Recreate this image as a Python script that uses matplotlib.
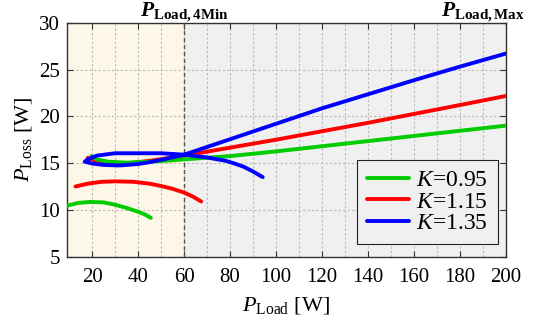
import numpy as np
import matplotlib
matplotlib.use("Agg")
import matplotlib.pyplot as plt
from matplotlib.transforms import blended_transform_factory

plt.rcParams['font.family'] = ['Liberation Serif', 'DejaVu Serif']
plt.rcParams['mathtext.fontset'] = 'custom'
plt.rcParams['mathtext.rm'] = 'Liberation Serif'
plt.rcParams['mathtext.it'] = 'Liberation Serif:italic'
plt.rcParams['mathtext.bf'] = 'Liberation Serif:bold'
plt.rcParams['mathtext.bfit'] = 'Liberation Serif:italic:bold'

# K = 0.95 (green)
g_up_x = [19.6, 22, 27, 35, 45, 52, 60, 80, 100, 120, 140, 160, 180, 200]
g_up_y = [15.75, 15.4, 15.15, 15.05, 15.15, 15.25, 15.4, 15.75, 16.25, 16.8, 17.35, 17.9, 18.45, 19.0]
g_lo_x = [9, 14, 19, 25, 30, 35, 40, 43, 45.5]
g_lo_y = [10.45, 10.75, 10.85, 10.8, 10.55, 10.2, 9.8, 9.5, 9.15]

# K = 1.15 (red)
r_up_x = [18, 22, 28, 35, 45, 52, 60, 80, 100, 120, 140, 160, 180, 200]
r_up_y = [15.55, 15.2, 15.0, 14.95, 15.25, 15.5, 15.8, 16.65, 17.5, 18.4, 19.3, 20.25, 21.2, 22.17]
r_lo_x = [12.7, 18, 24, 30, 38, 45, 50, 55, 60, 64, 67.4]
r_lo_y = [12.5, 12.8, 13.0, 13.05, 13.0, 12.8, 12.55, 12.25, 11.85, 11.4, 10.9]

# K = 1.35 (blue), one continuous fold
b_x = [94.2, 90, 86, 82, 78, 70, 60, 50, 40, 30, 22, 18, 16.7,
       20, 25, 32, 40, 45, 52, 60, 80, 100, 120, 140, 160, 180, 200]
b_y = [13.5, 14.1, 14.6, 14.95, 15.25, 15.6, 15.9, 16.05, 16.05, 16.05, 15.8, 15.4, 15.15,
       14.95, 14.8, 14.75, 14.9, 15.1, 15.45, 15.9, 17.55, 19.2, 20.85, 22.35, 23.85, 25.3, 26.7]

labels = ['$K$=0.95', '$K$=1.15', '$K$=1.35']
colors = ['#00cc00', '#ff0000', '#0000ff']

fig = plt.figure(figsize=(5.38, 3.23), dpi=100)
ax = fig.add_axes([0.1245, 0.2053, 0.8155, 0.7244])

xmin, xmax = 9, 200
ax.axvspan(xmin, 60, color='#fdf7e7', zorder=0)
ax.axvspan(60, xmax, color='#f0f0f0', zorder=0)
ax.axvline(60, color='#555555', ls=(0, (3, 2)), lw=1.0, zorder=1)

lw = 2.8
ax.plot(g_up_x, g_up_y, color=colors[0], lw=lw, label=labels[0], solid_capstyle='round', zorder=3)
ax.plot(g_lo_x, g_lo_y, color=colors[0], lw=lw, solid_capstyle='round', zorder=3)
ax.plot(r_up_x, r_up_y, color=colors[1], lw=lw, label=labels[1], solid_capstyle='round', zorder=2.9)
ax.plot(r_lo_x, r_lo_y, color=colors[1], lw=lw, solid_capstyle='round', zorder=3)
ax.plot(b_x, b_y, color=colors[2], lw=lw, label=labels[2], solid_capstyle='round', zorder=3.1)

ax.set_xlim(xmin, xmax)
ax.set_ylim(5, 30)
ax.set_xticks(np.arange(20, 201, 20))
ax.set_xticks(np.arange(30, 200, 20), minor=True)
ax.set_yticks(np.arange(5, 31, 5))
ax.grid(True, which='both', axis='x', color='#b8b8b8', ls=(0, (2, 2)), lw=0.8)
ax.grid(True, which='major', axis='y', color='#b8b8b8', ls=(0, (2, 2)), lw=0.8)
ax.set_axisbelow(True)
ax.tick_params(which='major', direction='in', top=True, right=True, length=4,
               labelsize=15, color='#333333')
ax.tick_params(axis='x', pad=8)
ax.tick_params(axis='y', pad=5)
ax.tick_params(which='minor', length=0)
for s in ax.spines.values():
    s.set_color('#333333')
    s.set_linewidth(1.0)

ax.set_xlabel(r'$P_{\mathrm{Load}}$ [W]', fontsize=16, labelpad=6)
ax.set_ylabel(r'$P_{\mathrm{Loss}}$ [W]', fontsize=16, labelpad=4)

tr = blended_transform_factory(ax.transData, ax.transAxes)
ax.text(60, 1.026, r'$\mathbfit{P}_{\mathbf{Load,4Min}}$', transform=tr,
        ha='center', va='baseline', fontsize=15.5)
ax.text(190, 1.026, r'$\mathbfit{P}_{\mathbf{Load,Max}}$', transform=tr,
        ha='center', va='baseline', fontsize=15.5)

leg = ax.legend(loc='lower right', bbox_to_anchor=(0.982, 0.054), borderaxespad=0,
                fontsize=17, frameon=True, fancybox=False, handlelength=1.8,
                handletextpad=0.3, labelspacing=0.0, borderpad=0.42)
leg.get_frame().set_edgecolor('#222222')
leg.get_frame().set_facecolor('#f0f0f0')
leg.get_frame().set_alpha(1)
leg.get_frame().set_linewidth(0.8)

plt.savefig('out.png', dpi=100)
